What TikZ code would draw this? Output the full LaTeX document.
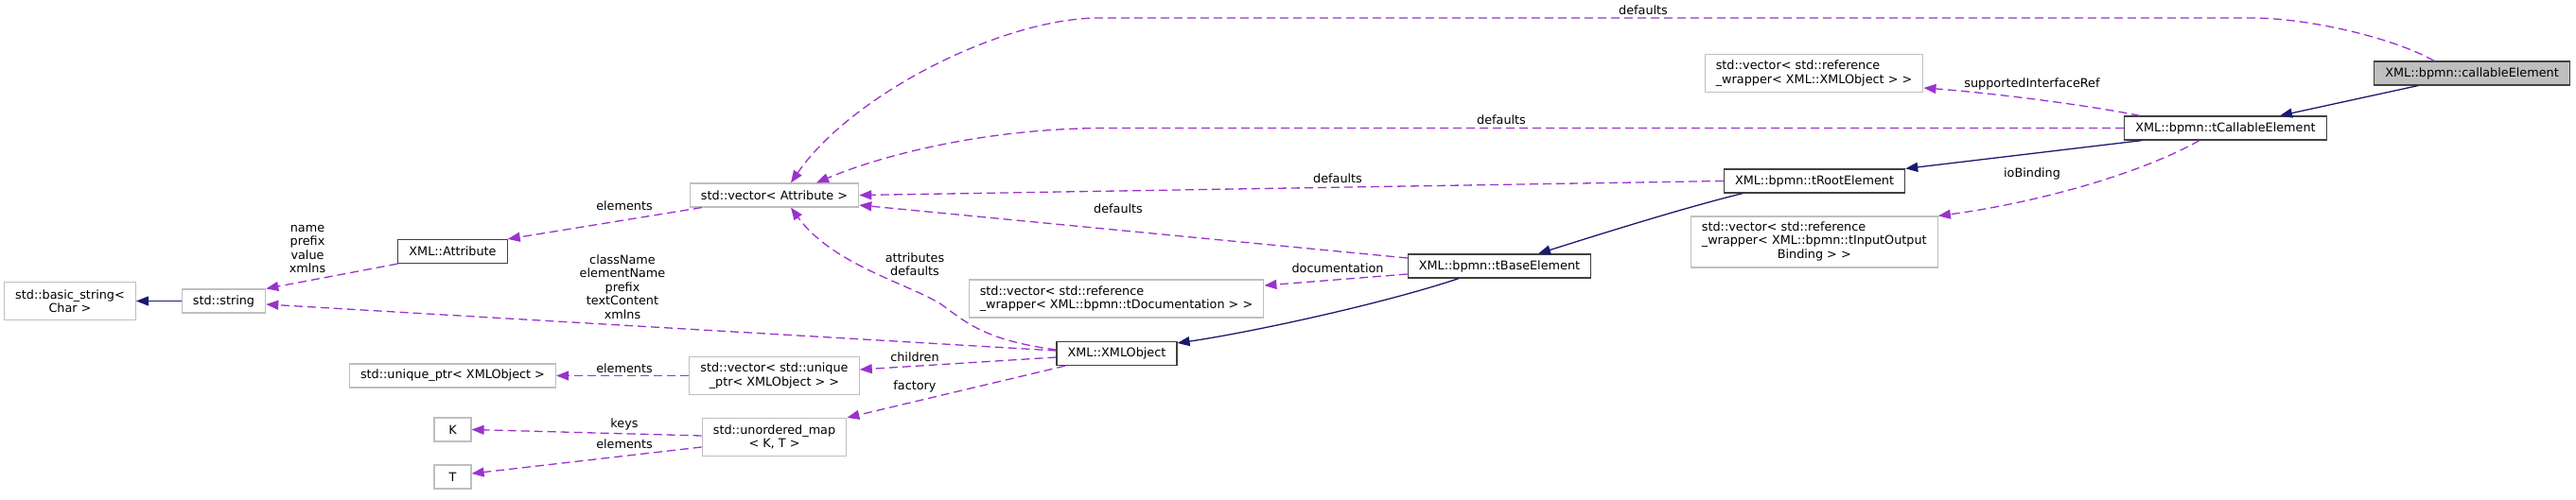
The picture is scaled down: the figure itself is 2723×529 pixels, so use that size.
\documentclass[tikz,border=0pt]{standalone}
\usepackage{fontspec}
\setmainfont{DejaVu Sans}
\usetikzlibrary{arrows.meta, calc}
\definecolor{usec}{HTML}{9A32CD}
\definecolor{inhc}{HTML}{191970}
\definecolor{extc}{HTML}{BFBFBF}
\definecolor{docc}{HTML}{404040}

\begin{document}
\begin{tikzpicture}[x=0.5pt,y=-0.5pt,
    every node/.style={font=\fontsize{6.4}{7.25}\selectfont,inner sep=0pt},
    ext/.style={draw=extc,line width=0.6pt,fill=white,inner xsep=5.8pt,minimum height=12.5pt,align=center},
    doc/.style={ext,draw=docc},
    two/.style={minimum height=20pt},
    three/.style={minimum height=27pt},
    use/.style={draw=usec,line width=0.65pt,dash pattern=on 4.5pt off 2.5pt,-{Triangle[length=6.5pt,width=5pt]}},
    inh/.style={draw=inhc,line width=0.65pt,-{Triangle[length=6.5pt,width=5pt]}}]
    \useasboundingbox (0,0) rectangle (2723,529);

    \node[doc,fill=extc] (cel) at (2613,77.5) {XML::bpmn::callableElement};
    \node[doc] (tce) at (2352.5,135.5) {XML::bpmn::tCallableElement};
    \node[doc] (tre) at (1918,191.5) {XML::bpmn::tRootElement};
    \node[doc] (tbe) at (1585,281.5) {XML::bpmn::tBaseElement};
    \node[doc] (xob) at (1180.5,374) {XML::XMLObject};
    \node[doc] (att) at (478.5,266) {XML::Attribute};
    \node[ext,two,align=left] (vxr) at (1917.5,77.5) {std::vector< std::reference\\\_wrapper< XML::XMLObject > >};
    \node[ext,three] (vio) at (1917.75,256) {\begin{tabular}{@{}l@{}}std::vector< std::reference\\\_wrapper< XML::bpmn::tInputOutput\\\multicolumn{1}{@{}c@{}}{Binding > >}\end{tabular}};
    \node[ext,two,align=left] (vdo) at (1180,316) {std::vector< std::reference\\\_wrapper< XML::bpmn::tDocumentation > >};
    \node[ext] (vat) at (818.5,206.5) {std::vector< Attribute >};
    \node[ext,two] (vup) at (818.5,397.5) {std::vector< std::unique\\\_ptr< XMLObject > >};
    \node[ext,two] (ump) at (818.5,462.5) {std::unordered\_map\\< K, T >};
    \node[ext] (upt) at (478.5,397.5) {std::unique\_ptr< XMLObject >};
    \node[ext,minimum width=19.5pt] (k) at (478.5,454.5) {K};
    \node[ext,minimum width=19.5pt] (t) at (478.5,504.5) {T};
    \node[ext] (str) at (236.5,318.5) {std::string};
    \node[ext,two] (bst) at (74,318.5) {std::basic\_string<\\Char >};

    \draw[inh] ($(cel.south)+(-57,0)$) -- ($(tce.north)+(57.5,0)$);
    \draw[inh] ($(tce.south)+(-88.5,0)$) -- (tre.north east);
    \draw[inh] ($(tre.south)+(-76,0)$) .. controls (1780,220) and (1700,245) .. ($(tbe.north)+(41,0)$);
    \draw[inh] ($(tbe.south)+(-43,0)$) .. controls (1460,322) and (1320,352) .. ($(xob.east)+(0,-11)$);
    \draw[inh] (str) -- (bst);

    \draw[use] ($(cel.north)+(-40,0)$) .. controls (2530,40) and (2440,19) .. (2380,19) -- (1162,19)
        .. controls (1060,19) and (900,100) .. ($(vat.north)+(17.5,0)$);
    \draw[use] (tce.west) -- (1171,135.5) .. controls (1040,135.5) and (930,165) .. ($(vat.north)+(44.5,0)$);
    \draw[use] (tre.west) -- (vat.east);
    \draw[use] ($(tbe.west)+(0,-8.5)$) -- ($(vat.east)+(0,10.5)$);
    \draw[use] ($(tbe.west)+(0,8.5)$) -- ($(vdo.east)+(0,-14)$);
    \draw[use] ($(tce.north)+(-90.5,0)$) .. controls (2200,110) and (2100,98) .. ($(vxr.east)+(0,15.5)$);
    \draw[use] ($(tce.south)+(-27.5,0)$) .. controls (2260,185) and (2150,215) .. (vio.north east);
    \draw[use] ($(xob.west)+(0,-4)$) .. controls (1040,360) and (1020,340) .. (995,322)
        .. controls (960,300) and (880,280) .. ($(vat.south)+(17.5,0)$);
    \draw[use] ($(xob.west)+(0,-3)$) -- ($(str.east)+(0,3.5)$);
    \draw[use] ($(xob.west)+(0,4)$) -- ($(vup.east)+(0,-6.5)$);
    \draw[use] ($(xob.south)+(-54.5,0)$) -- (ump.north east);
    \draw[use] (vup) -- (upt);
    \draw[use] ($(ump.west)+(0,-1.5)$) -- (k.east);
    \draw[use] ($(ump.west)+(0,10.5)$) -- ($(t.east)+(0,-3.5)$);
    \draw[use] ($(vat.south west)+(13,0)$) -- (att.north east);
    \draw[use] (att.south west) -- (str.north east);

    \foreach \n/\x/\y/\t in {0/1737/11/defaults, 1/1587/127/defaults, 2/1414/189/defaults,
        3/1182/221/defaults, 4/1414/284/documentation, 5/2148/89/supportedInterfaceRef,
        6/2148/184/ioBinding, 7/967/279.5/{attributes\\defaults},
        8/658/303.5/{className\\elementName\\prefix\\textContent\\xmlns}, 9/967/378/children,
        10/967/409/factory, 11/660/218/elements, 12/325/263.5/{name\\prefix\\value\\xmlns},
        13/660/390/elements, 14/660/449/keys, 15/660/470/elements}
    {\node[align=center] (l\n) at (\x,\y) {\t};}
\end{tikzpicture}
\end{document}
